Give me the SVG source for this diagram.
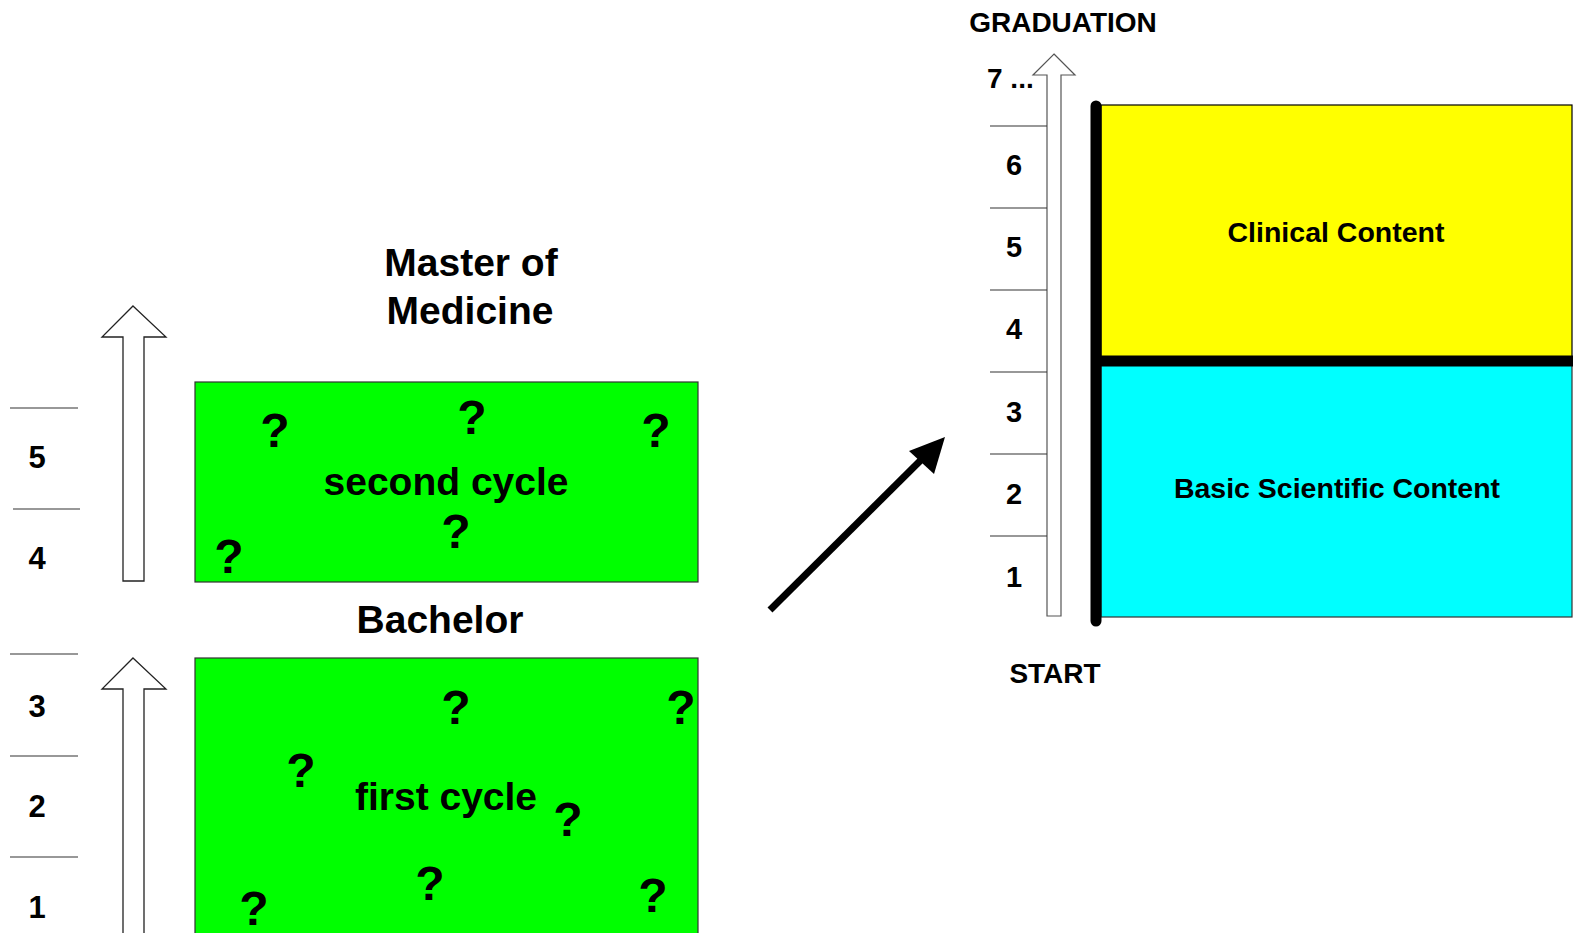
<svg xmlns="http://www.w3.org/2000/svg" width="1573" height="933" viewBox="0 0 1573 933">
<style>
text{font-family:"Liberation Sans",Arial,sans-serif;font-weight:bold;fill:#000}
.c{text-anchor:middle}
.q{font-size:48px;text-anchor:middle}
.n{font-size:31px;text-anchor:middle}
.rn{font-size:29px;text-anchor:middle}
.tick{stroke:#333;stroke-width:1.2}
.hollow{fill:#fff;stroke:#222;stroke-width:1.3}
.green{fill:#00ff00;stroke:#333;stroke-width:1.2}
</style>
<rect width="1573" height="933" fill="#fff"/>

<g id="left-scale">
<line class="tick" x1="10" y1="408" x2="78" y2="408"/>
<line class="tick" x1="13" y1="509" x2="80" y2="509"/>
<line class="tick" x1="10" y1="654" x2="78" y2="654"/>
<line class="tick" x1="10" y1="756" x2="78" y2="756"/>
<line class="tick" x1="10" y1="857" x2="78" y2="857"/>
<text class="n" x="37" y="468">5</text>
<text class="n" x="37" y="569">4</text>
<text class="n" x="37" y="717">3</text>
<text class="n" x="37" y="817">2</text>
<text class="n" x="37" y="918">1</text>
</g>

<g id="arrow-upper">
<polygon class="hollow" points="133,306 166,337 144,337 144,581 123,581 123,337 102,337"/>
</g>
<g id="arrow-lower">
<polygon class="hollow" points="133,658 166,689 144,689 144,940 123,940 123,689 102,689"/>
</g>

<g id="title-master">
<text class="c" x="471" y="276" font-size="39">Master of</text>
<text class="c" x="470" y="324" font-size="39">Medicine</text>
</g>

<g id="second-cycle">
<rect class="green" x="195" y="382" width="503" height="200"/>
<text class="c" x="446" y="495" font-size="39">second cycle</text>
<text class="q" x="275" y="447">?</text>
<text class="q" x="472" y="434">?</text>
<text class="q" x="656" y="447">?</text>
<text class="q" x="229" y="573">?</text>
<text class="q" x="456" y="548">?</text>
</g>

<g id="bachelor-label">
<text class="c" x="440" y="633" font-size="39">Bachelor</text>
</g>

<g id="first-cycle">
<rect class="green" x="195" y="658" width="503" height="290"/>
<text class="c" x="446" y="810" font-size="39">first cycle</text>
<text class="q" x="456" y="724">?</text>
<text class="q" x="681" y="724">?</text>
<text class="q" x="301" y="787">?</text>
<text class="q" x="568" y="836">?</text>
<text class="q" x="430" y="900">?</text>
<text class="q" x="653" y="912">?</text>
<text class="q" x="254" y="925">?</text>
</g>

<g id="connectors">
<line x1="770" y1="610" x2="925" y2="456" stroke="#000" stroke-width="7"/>
<polygon points="945,437 934,474 909,451" fill="#000"/>
</g>

<g id="right-scale">
<text class="c" x="1063" y="32" font-size="28">GRADUATION</text>
<polygon fill="#fff" stroke="#555" stroke-width="1.2" points="1054,54 1075,75 1061,75 1061,616 1047,616 1047,75 1033,75"/>
<line class="tick" x1="990" y1="126" x2="1047" y2="126"/>
<line class="tick" x1="990" y1="208" x2="1047" y2="208"/>
<line class="tick" x1="990" y1="290" x2="1047" y2="290"/>
<line class="tick" x1="990" y1="372" x2="1047" y2="372"/>
<line class="tick" x1="990" y1="454" x2="1047" y2="454"/>
<line class="tick" x1="990" y1="536" x2="1047" y2="536"/>
<text x="987" y="88" font-size="28">7 ...</text>
<text class="rn" x="1014" y="175">6</text>
<text class="rn" x="1014" y="257">5</text>
<text class="rn" x="1014" y="339">4</text>
<text class="rn" x="1014" y="422">3</text>
<text class="rn" x="1014" y="504">2</text>
<text class="rn" x="1014" y="587">1</text>
<text class="c" x="1055" y="683" font-size="28">START</text>
</g>

<g id="clinical-content">
<rect x="1101" y="105" width="471" height="256" fill="#ffff00" stroke="#000" stroke-width="1.2"/>
<text class="c" x="1336" y="242" font-size="28.5">Clinical Content</text>
</g>

<g id="basic-content">
<rect x="1101" y="361" width="471" height="256" fill="#00ffff" stroke="#333" stroke-width="1.2"/>
<text class="c" x="1337" y="498" font-size="28.5">Basic Scientific Content</text>
</g>

<g id="frame-lines">
<line x1="1096" y1="361" x2="1573" y2="361" stroke="#000" stroke-width="11"/>
<line x1="1096" y1="106" x2="1096" y2="621" stroke="#000" stroke-width="11" stroke-linecap="round"/>
</g>
</svg>
